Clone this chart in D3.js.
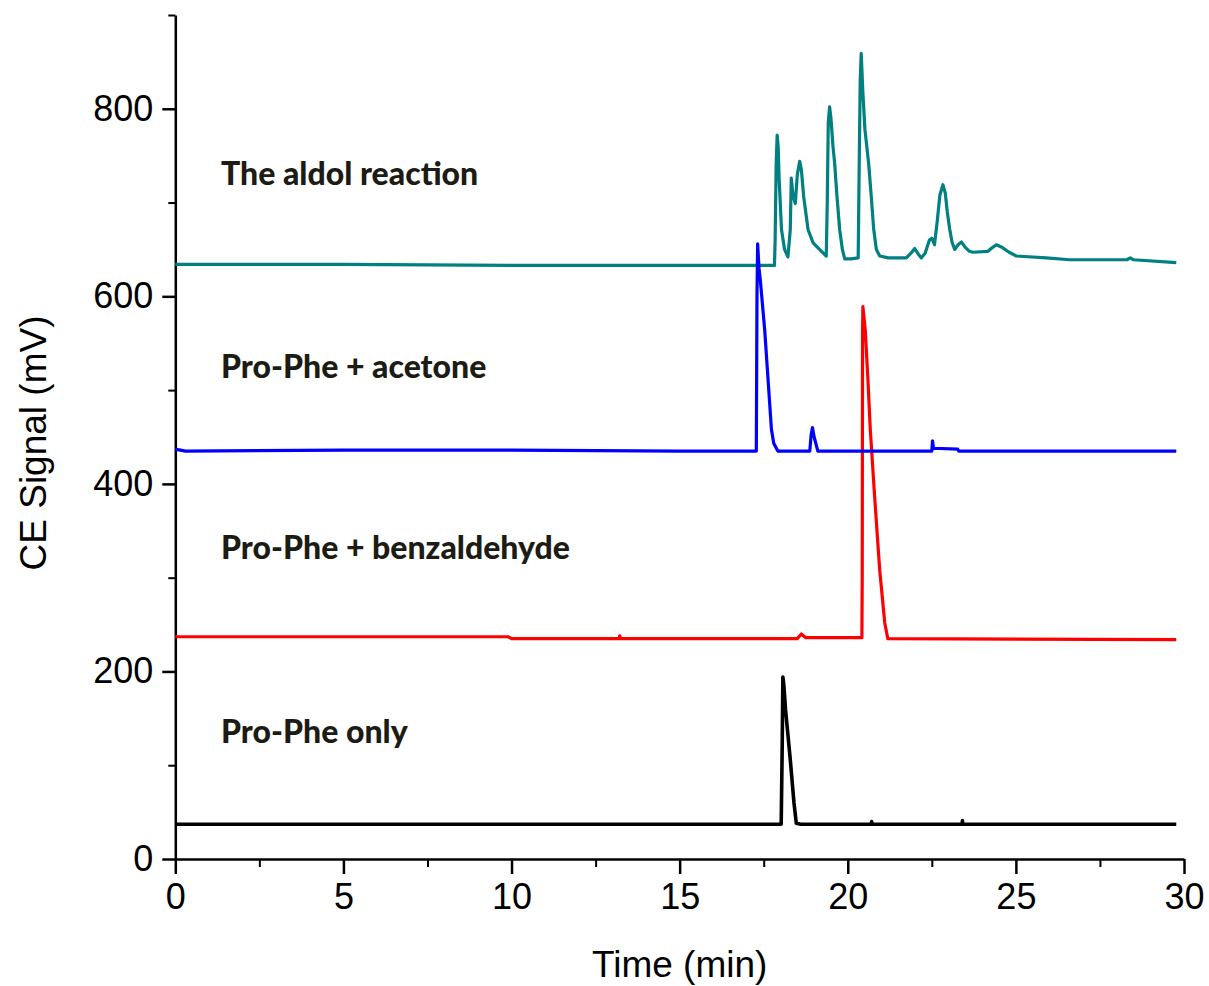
<!DOCTYPE html>
<html>
<head>
<meta charset="utf-8">
<script src="https://cdn.jsdelivr.net/npm/d3@7"></script>
<style>
  html, body { margin: 0; padding: 0; background: #fff; }
  svg { display: block; }
  .tick text { font-family: "Liberation Sans", Arial, sans-serif; }
</style>
</head>
<body>
<svg id="chart" width="1209" height="986"></svg>
<script>
// Electropherogram traces: [time (min), signal (mV)]
const aldolReaction = [
  [0, 634], [5, 634], [10, 633], [15, 633], [17.82, 633], [17.84, 660], [17.87, 740], [17.9, 772],
  [17.93, 760], [17.96, 724], [18.03, 671], [18.12, 650], [18.22, 642], [18.29, 671], [18.32, 726],
  [18.37, 708], [18.44, 699], [18.5, 730], [18.57, 744], [18.62, 735], [18.69, 706], [18.82, 671],
  [18.97, 657], [19.16, 650], [19.36, 643], [19.39, 700], [19.42, 785], [19.46, 802], [19.5, 790],
  [19.56, 760], [19.61, 742], [19.68, 706], [19.76, 671], [19.84, 650], [19.91, 640], [20.1, 640],
  [20.31, 641], [20.34, 740], [20.37, 830], [20.4, 859], [20.45, 817], [20.51, 778], [20.62, 742],
  [20.7, 706], [20.77, 672], [20.85, 650], [20.95, 643], [21.2, 641], [21.74, 641], [21.88, 646],
  [21.99, 651], [22.1, 645], [22.19, 641], [22.3, 646], [22.43, 660], [22.5, 662], [22.58, 655],
  [22.66, 680], [22.74, 708], [22.83, 719], [22.9, 710], [22.96, 690], [23.03, 672], [23.1, 658],
  [23.18, 650], [23.28, 655], [23.38, 658], [23.5, 652], [23.62, 648], [23.72, 647], [24.17, 648],
  [24.3, 652], [24.42, 655], [24.6, 652], [24.8, 647], [25.01, 643], [25.9, 641], [26.6, 639],
  [28.3, 639], [28.4, 641], [28.5, 639], [29.77, 636]
];

const proPheAcetone = [
  [0, 437], [0.3, 435], [5, 436], [10, 436], [15, 435], [17.28, 435], [17.3, 600], [17.32, 656],
  [17.36, 630], [17.4, 617], [17.53, 564], [17.63, 511], [17.73, 458], [17.8, 443], [17.92, 435],
  [18.87, 435], [18.91, 452], [18.95, 460], [19.0, 450], [19.11, 435], [22.5, 435], [22.52, 446],
  [22.55, 438], [23.27, 437], [23.3, 435], [29.77, 435]
];

const proPheBenzaldehyde = [
  [0, 237], [5, 237], [9.9, 237], [10, 235], [13.2, 235], [13.22, 238], [13.24, 235], [18.5, 235],
  [18.62, 240], [18.75, 236], [20.42, 236], [20.43, 300], [20.44, 560], [20.45, 589], [20.52, 564],
  [20.6, 511], [20.67, 458], [20.8, 386], [20.95, 308], [21.1, 252], [21.19, 235], [29.77, 234]
];

const proPheOnly = [
  [0, 37], [5, 37], [10, 37], [18.02, 37], [18.05, 120], [18.07, 194], [18.1, 185], [18.15, 159],
  [18.29, 106], [18.4, 60], [18.47, 38], [18.6, 37], [20.7, 37], [20.71, 40], [20.72, 37],
  [23.4, 37], [23.41, 41], [23.42, 37], [29.77, 37]
];

const traceNames = ["The aldol reaction", "Pro-Phe + acetone", "Pro-Phe + benzaldehyde", "Pro-Phe only"];
const traceColors = ["#008080", "#0000ff", "#ff0000", "#000000"];
const traceData = [aldolReaction, proPheAcetone, proPheBenzaldehyde, proPheOnly];

const xMajorTicks = [0, 5, 10, 15, 20, 25, 30];
const xMinorTicks = [2.5, 7.5, 12.5, 17.5, 22.5, 27.5];
const yMajorTicks = [0, 200, 400, 600, 800];
const yMinorTicks = [100, 300, 500, 700, 900];

// Layout
const svg = d3.select("#chart");
const plot = { left: 175.3, right: 1184, top: 15, bottom: 859 };

const x = d3.scaleLinear().domain([0, 30]).range([plot.left, plot.right]);
const y = d3.scaleLinear().domain([0, 900]).range([plot.bottom, plot.top]);

const axisFont = '"Liberation Sans", Arial, Helvetica, sans-serif';

// Minor ticks
svg.append("g")
  .attr("transform", `translate(0,${plot.bottom})`)
  .call(d3.axisBottom(x).tickValues(xMinorTicks).tickSize(8).tickFormat(""))
  .call(g => g.select(".domain").remove())
  .call(g => g.selectAll("line").attr("stroke", "#000").attr("stroke-width", 2));

svg.append("g")
  .attr("transform", `translate(${plot.left},0)`)
  .call(d3.axisLeft(y).tickValues(yMinorTicks).tickSize(7).tickFormat(""))
  .call(g => g.select(".domain").remove())
  .call(g => g.selectAll("line").attr("stroke", "#000").attr("stroke-width", 2));

// Major axes
const xAxis = svg.append("g")
  .attr("transform", `translate(0,${plot.bottom})`)
  .call(d3.axisBottom(x).tickValues(xMajorTicks).tickSize(15).tickSizeOuter(0).tickPadding(9).tickFormat(d3.format("d")));
xAxis.select(".domain").attr("stroke", "#000").attr("stroke-width", 2.5);
xAxis.selectAll(".tick line").attr("stroke", "#000").attr("stroke-width", 2.5);
xAxis.selectAll(".tick text").attr("font-family", axisFont).attr("font-size", 36).attr("fill", "#000");

const yAxis = svg.append("g")
  .attr("transform", `translate(${plot.left},0)`)
  .call(d3.axisLeft(y).tickValues(yMajorTicks).tickSize(13).tickSizeOuter(0).tickPadding(9).tickFormat(d3.format("d")));
yAxis.select(".domain").attr("stroke", "#000").attr("stroke-width", 2.5);
yAxis.selectAll(".tick line").attr("stroke", "#000").attr("stroke-width", 2.5);
yAxis.selectAll(".tick text").attr("font-family", axisFont).attr("font-size", 36).attr("fill", "#000");

// Axis titles
svg.append("text")
  .attr("x", (plot.left + plot.right) / 2)
  .attr("y", 977)
  .attr("text-anchor", "middle")
  .attr("font-family", axisFont)
  .attr("font-size", 37)
  .attr("fill", "#000")
  .text("Time (min)");

svg.append("text")
  .attr("transform", `translate(46,${(plot.top + plot.bottom) / 2 + 6}) rotate(-90)`)
  .attr("text-anchor", "middle")
  .attr("font-family", axisFont)
  .attr("font-size", 37)
  .attr("fill", "#000")
  .text("CE Signal (mV)");

// Traces
const line = d3.line().x(d => x(d[0])).y(d => y(d[1]));
const drawOrder = [0, 2, 1, 3];
drawOrder.forEach(i => {
  svg.append("path")
    .datum(traceData[i])
    .attr("fill", "none")
    .attr("stroke", traceColors[i])
    .attr("stroke-width", i === 3 ? 3.6 : 3.2)
    .attr("stroke-linejoin", "round")
    .attr("d", line);
});

// Trace labels, placed above each baseline
const labelOffsets = [85, 76, 83, 87];
traceNames.forEach((name, i) => {
  const base = traceData[i][0][1];
  svg.append("text")
    .attr("x", x(1.36))
    .attr("y", y(base + labelOffsets[i]))
    .attr("font-family", "Lato, 'Open Sans', sans-serif")
    .attr("font-weight", 900)
    .attr("font-size", 32)
    .attr("fill", "#1c1c14")
    .text(name);
});
</script>
</body>
</html>
